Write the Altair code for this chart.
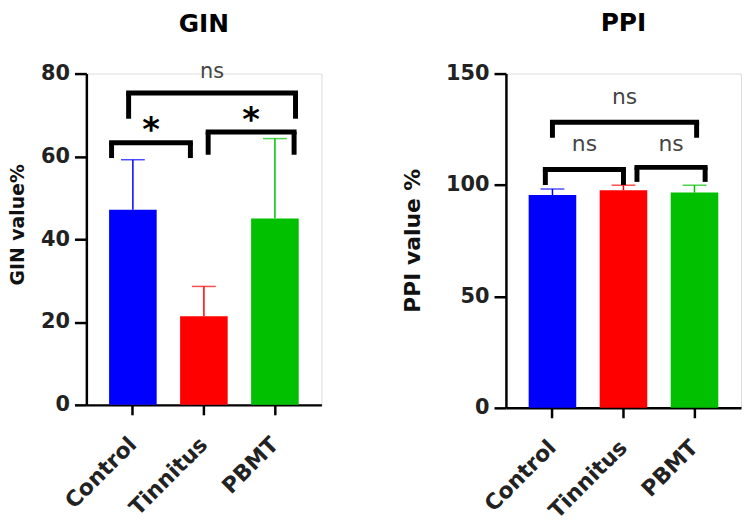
import altair as alt
import pandas as pd

# ---------------- data ----------------
groups = ["Control", "Tinnitus", "PBMT"]
colors = ["#0000FF", "#FF0000", "#00C000"]

gin_mean = [47.1, 21.4, 45.0]
gin_sd = [12.1, 7.2, 19.3]
ppi_mean = [95.5, 97.6, 96.6]
ppi_sd = [2.7, 2.3, 3.3]

# significance brackets (ends in group units: 0=Control, 1=Tinnitus, 2=PBMT)
gin_br_start = [-0.30, 1.06, -0.06]
gin_br_end = [0.81, 2.27, 2.29]
gin_br_top = [63.3, 65.9, 75.3]
gin_br_bottom = [59.6, 60.4, 69.1]
gin_br_label = ["*", "*", "ns"]
gin_label_y = [67.7, 70.3, 80.2]

ppi_br_start = [-0.10, 1.19, 0.0]
ppi_br_end = [1.0, 2.15, 2.03]
ppi_br_top = [107.0, 107.9, 128.2]
ppi_br_bottom = [100.0, 101.4, 121.2]
ppi_br_label = ["ns", "ns", "ns"]
ppi_label_y = [117.8, 118.0, 139.2]

gin_ticks = [0, 20, 40, 60, 80]
ppi_ticks = [0, 50, 100, 150]

# ---------------- styling ----------------
FONT = "DejaVu Sans"
PAD_INNER, PAD_OUTER = 0.33, 0.32
half_span = PAD_OUTER + (1 - PAD_INNER) / 2
xq_domain = [-half_span, len(groups) - 1 + half_span]


def make_panel(title, title_offset, mean, sd, ymax, yticks, ytitle, ytitle_size,
               ytitle_x, ytitle_y, br_start, br_end, br_top, br_bottom, br_label,
               label_y, ns_size, height):
    df = pd.DataFrame({"group": groups, "mean": mean,
                       "upper": [m + s for m, s in zip(mean, sd)]})
    band = alt.Scale(type="band", domain=groups, paddingInner=PAD_INNER,
                     paddingOuter=PAD_OUTER)
    color = alt.Color("group:N", scale=alt.Scale(domain=groups, range=colors),
                      legend=None)
    yscale = alt.Scale(domain=[0, ymax], nice=False)
    yaxis = alt.Axis(values=yticks, title=ytitle, grid=False,
                     titleFont=FONT, titleFontSize=ytitle_size, titleFontWeight="bold",
                     titleColor="#111", titleAngle=270, titleBaseline="top",
                     titleAlign="center", titleX=ytitle_x, titleY=ytitle_y,
                     labelFont=FONT, labelFontSize=21, labelFontWeight="bold",
                     labelColor="#222", labelPadding=5, tickSize=12, tickWidth=2.5,
                     tickColor="black", domainColor="black", domainWidth=2.5)
    xaxis = alt.Axis(title=None, labelAngle=-45, labelAlign="right",
                     labelBaseline="middle", labelFont=FONT, labelFontSize=22,
                     labelFontWeight="bold", labelColor="#222", labelPadding=26,
                     tickSize=10, tickWidth=2.5, tickColor="black",
                     domainColor="black", domainWidth=2.5)

    bars = alt.Chart(df).mark_bar().encode(
        x=alt.X("group:N", scale=band, sort=groups, axis=xaxis),
        y=alt.Y("mean:Q", scale=yscale, axis=yaxis),
        color=color,
    )
    err = alt.Chart(df).mark_rule(strokeWidth=1.5).encode(
        x=alt.X("group:N", scale=band, sort=groups),
        y=alt.Y("mean:Q"), y2="upper:Q", color=color,
    )
    cap = alt.Chart(df).mark_tick(size=24, thickness=1.5).encode(
        x=alt.X("group:N", scale=band, sort=groups),
        y=alt.Y("upper:Q"), color=color,
    )

    br = pd.DataFrame({"start": br_start, "end": br_end, "top": br_top,
                       "bottom": br_bottom, "label": br_label, "ly": label_y})
    br["mid"] = (br["start"] + br["end"]) / 2
    xq = alt.Scale(domain=xq_domain, nice=False, zero=False)

    horiz = alt.Chart(br).mark_rule(strokeWidth=5, strokeCap="square",
                                    color="black").encode(
        x=alt.X("start:Q", scale=xq, axis=None), x2="end:Q", y="top:Q")
    legs = alt.Chart(br).transform_fold(["start", "end"], as_=["side", "xpos"]).mark_rule(
        strokeWidth=5, color="black").encode(
        x=alt.X("xpos:Q", scale=xq, axis=None), y="bottom:Q", y2="top:Q")
    stars = alt.Chart(br).transform_filter("datum.label == '*'").mark_text(
        font=FONT, fontWeight="bold", fontSize=34, baseline="middle", dy=7,
        color="black").encode(
        x=alt.X("mid:Q", scale=xq, axis=None), y="ly:Q", text="label:N")
    ns = alt.Chart(br).transform_filter("datum.label == 'ns'").mark_text(
        font=FONT, fontSize=ns_size, baseline="middle", dy=-1,
        color="#444").encode(
        x=alt.X("mid:Q", scale=xq, axis=None), y="ly:Q", text="label:N")

    return alt.layer(
        alt.layer(bars, err, cap),
        alt.layer(horiz, legs, stars, ns),
    ).resolve_scale(x="independent").properties(
        width=237, height=height,
        title=alt.TitleParams(title, font=FONT, fontSize=25, fontWeight="bold",
                              color="black", anchor="middle", baseline="alphabetic",
                              offset=title_offset),
    )


gin = make_panel("GIN", 4, gin_mean, gin_sd, 80, gin_ticks, "GIN value%", 19,
                 -78, 152, gin_br_start, gin_br_end, gin_br_top, gin_br_bottom,
                 gin_br_label, gin_label_y, 21, 334)
ppi = make_panel("PPI", 7, ppi_mean, ppi_sd, 150, ppi_ticks, "PPI value %", 22,
                 -104, 168, ppi_br_start, ppi_br_end, ppi_br_top, ppi_br_bottom,
                 ppi_br_label, ppi_label_y, 22, 337)

chart = alt.hconcat(gin, ppi, spacing=79).properties(padding=0).configure_view(
    stroke=None).configure(background="white")

chart.save("out.html", embed_options={"renderer": "svg", "actions": False})
